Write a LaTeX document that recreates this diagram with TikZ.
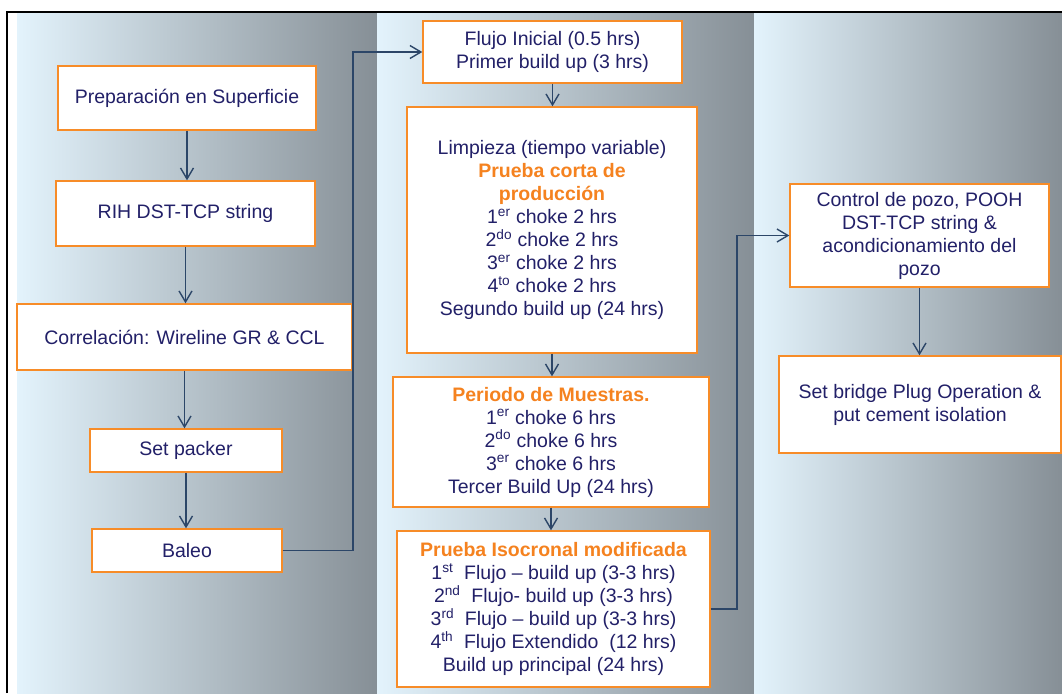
\documentclass[tikz,border=0pt]{standalone}
\usepackage{fontspec}
\setmainfont{Liberation Sans}
\usetikzlibrary{arrows.meta}

\definecolor{bandlight}{RGB}{227,243,252}
\definecolor{bandmid}{RGB}{196,210,218}
\definecolor{banddark}{RGB}{134,143,150}
\definecolor{boxorange}{RGB}{247,140,40}
\definecolor{headorange}{RGB}{245,130,31}
\definecolor{textnavy}{RGB}{34,32,104}
\definecolor{linkblue}{RGB}{44,70,104}

\newcommand{\headtxt}[1]{{\bfseries\color{headorange}#1}}
\newcommand{\sptxt}[1]{\textsuperscript{#1}}

\tikzset{
  band/.style={left color=bandlight, middle color=bandmid, right color=banddark, draw=none},
  stepbox/.style={draw=boxorange, fill=white, line width=1.4pt, inner sep=0pt,
    align=center, text=textnavy, font=\fontsize{19.5}{23}\selectfont},
  conn/.style={draw=linkblue, line width=1.4pt,
    -{Straight Barb[length=11pt,width=13pt,line width=1.4pt]}},
}

\begin{document}
\begin{tikzpicture}[x=1pt,y=-1pt]
\useasboundingbox (0,0) rectangle (1062,693);
\fill[white] (0,0) rectangle (1062,693);

% three shaded columns
\shade[band] (17,13) rectangle (377,693);
\shade[band] (377,13) rectangle (754,693);
\shade[band] (754,13) rectangle (1062,693);

% frame on the top and left
\draw[black, line width=2pt] (7,693) -- (7,12) -- (1062,12);

% first column
\node[stepbox, minimum width=258, minimum height=64] (prep) at (187,98)
  {Preparación en Superficie};
\node[stepbox, minimum width=259, minimum height=65] (rih) at (185.5,213.5)
  {RIH DST-TCP string};
\node[stepbox, minimum width=335, minimum height=66] (corr) at (184.5,337)
  {Correlación: Wireline GR \& CCL};
\node[stepbox, minimum width=192, minimum height=43] (packer) at (186,450.5)
  {Set packer};
\node[stepbox, minimum width=190, minimum height=43] (baleo) at (187,550.5)
  {Baleo};

% second column
\node[stepbox, minimum width=259, minimum height=62] (flujo) at (552.5,52)
  {Flujo Inicial (0.5 hrs)\\Primer build up (3 hrs)};
\node[stepbox, minimum width=290, minimum height=246] (limp) at (552,230)
  {Limpieza (tiempo variable)\\
   \headtxt{Prueba corta de}\\
   \headtxt{producción}\\
   1\sptxt{er} choke 2 hrs\\
   2\sptxt{do} choke 2 hrs\\
   3\sptxt{er} choke 2 hrs\\
   4\sptxt{to} choke 2 hrs\\
   Segundo build up (24 hrs)};
\node[stepbox, minimum width=316, minimum height=130] (periodo) at (551,442)
  {\headtxt{Periodo de Muestras.}\\
   1\sptxt{er} choke 6 hrs\\
   2\sptxt{do} choke 6 hrs\\
   3\sptxt{er} choke 6 hrs\\
   Tercer Build Up (24 hrs)};
\node[stepbox, minimum width=313, minimum height=156] (iso) at (553.5,609)
  {\headtxt{Prueba Isocronal modificada}\\
   1\sptxt{st}\ \ Flujo – build up (3-3 hrs)\\
   2\sptxt{nd}\ \ Flujo- build up (3-3 hrs)\\
   3\sptxt{rd}\ \ Flujo – build up (3-3 hrs)\\
   4\sptxt{th}\ \ Flujo Extendido\ \ (12 hrs)\\
   Build up principal (24 hrs)};

% third column
\node[stepbox, minimum width=259, minimum height=103] (control) at (919.5,235.5)
  {Control de pozo, POOH\\DST-TCP string \&\\acondicionamiento del\\pozo};
\node[stepbox, minimum width=282, minimum height=97] (bridge) at (920,404.5)
  {Set bridge Plug Operation \&\\put cement isolation};

% bend points of the column-to-column links
\coordinate (bendA) at (353,52);
\coordinate (bendB) at (737,235.5);

% connectors
\draw[conn] (prep.south) -- (prep.south |- rih.north);
\draw[conn] (rih.south) -- (rih.south |- corr.north);
\draw[conn] (corr.south) -- (corr.south |- packer.north);
\draw[conn] (packer.south) -- (packer.south |- baleo.north);
\draw[conn] (baleo.east) -| (bendA) -- (flujo.west);
\draw[conn] (flujo.south) -- (flujo.south |- limp.north);
\draw[conn] (limp.south) -- (limp.south |- periodo.north);
\draw[conn] (periodo.south) -- (periodo.south |- iso.north);
\draw[conn] (iso.east) -| (bendB) -- (control.west);
\draw[conn] (control.south) -- (control.south |- bridge.north);
\end{tikzpicture}
\end{document}
